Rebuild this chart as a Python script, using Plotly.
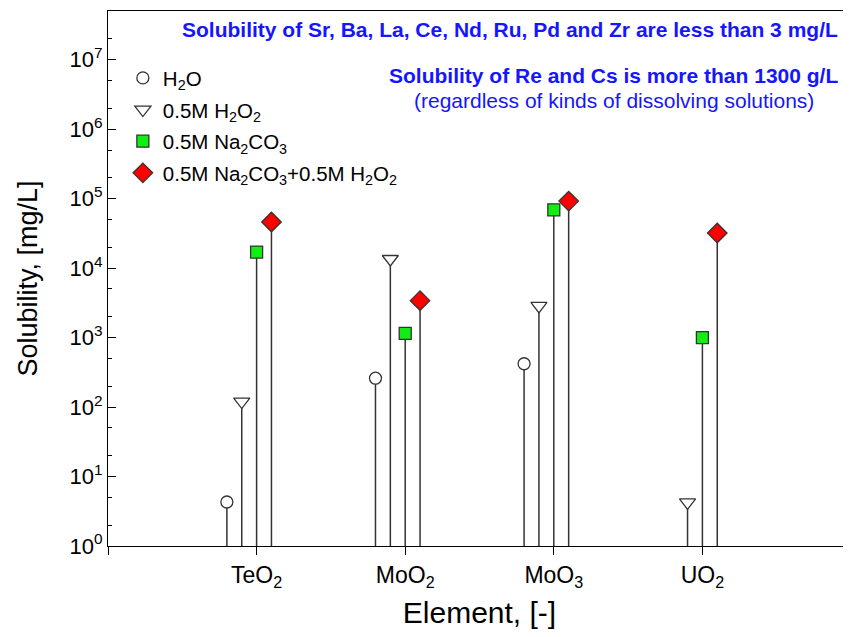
import plotly.graph_objects as go

categories = ["TeO<sub>2</sub>", "MoO<sub>2</sub>", "MoO<sub>3</sub>", "UO<sub>2</sub>"]
series_names = ["H<sub>2</sub>O", "0.5M H<sub>2</sub>O<sub>2</sub>", "0.5M Na<sub>2</sub>CO<sub>3</sub>",
                "0.5M Na<sub>2</sub>CO<sub>3</sub>+0.5M H<sub>2</sub>O<sub>2</sub>"]
h2o = [4.3, 260, 420, None]
h2o2 = [120, 13500, 2850, 4.25]
na2co3 = [17000, 1150, 69000, 1000]
na2co3_h2o2 = [46000, 3400, 92000, 32000]
series_values = [h2o, h2o2, na2co3, na2co3_h2o2]

offsets = [-0.2, -0.1, 0.0, 0.1]
symbols = ["circle", "triangle-down", "square", "diamond"]
fills = ["white", "white", "#11ee11", "#ff0000"]
sizes = [12, 14, 12, 15]

fig = go.Figure()

# stems
for vals, off in zip(series_values, offsets):
    sx, sy = [], []
    for i, v in enumerate(vals):
        if v is None:
            continue
        xx = i + 1 + off
        sx += [xx, xx, None]
        sy += [1, v, None]
    fig.add_trace(go.Scatter(x=sx, y=sy, mode="lines", line=dict(color="#333333", width=1.5),
                             showlegend=False, hoverinfo="skip"))

for k, (vals, off) in enumerate(zip(series_values, offsets)):
    xs = [i + 1 + off for i, v in enumerate(vals) if v is not None]
    ys = [v for v in vals if v is not None]
    fig.add_trace(go.Scatter(
        x=xs, y=ys, mode="markers", name=series_names[k], legendgroup=str(k),
        marker=dict(symbol=symbols[k], size=sizes[k], color=fills[k],
                    line=dict(color="#333333", width=1.3)),
    ))

fig.update_layout(
    width=843, height=621,
    margin=dict(l=100, r=0, t=3, b=83),
    plot_bgcolor="white", paper_bgcolor="white",
    font=dict(family="Liberation Sans, Arial, sans-serif", color="black", size=20),
    legend=dict(x=0.02, y=0.912, xanchor="left", yanchor="top", bgcolor="rgba(0,0,0,0)",
                font=dict(size=20.5), tracegroupgap=2, traceorder="grouped"),
    xaxis=dict(range=[0, 5], tickvals=[0, 1, 2, 3, 4, 5], ticktext=[""] + categories + [""],
               ticks="outside", ticklen=8, tickcolor="black", showline=True, linecolor="black",
               linewidth=1.2, mirror=True, showgrid=False, zeroline=False,
               title=dict(text="Element, [-]", font=dict(size=30), standoff=18),
               tickfont=dict(size=23)),
    yaxis=dict(type="log", range=[0, 7.7], tickvals=[10**i for i in range(8)],
               ticktext=["10<sup>%d</sup>" % i for i in range(8)],
               ticks="inside", ticklen=8, tickcolor="black", showline=True, linecolor="black",
               linewidth=1.2, mirror="ticks", showgrid=False, zeroline=False,
               minor=dict(ticks="inside", ticklen=4, tickcolor="black", showgrid=False),
               title=dict(text="Solubility, [mg/L]", font=dict(size=27), standoff=24),
               tickfont=dict(size=22)),
)

fig.add_annotation(xref="paper", yref="paper", x=0.985, y=0.966, xanchor="right", yanchor="middle",
                   text="<b>Solubility of Sr, Ba, La, Ce, Nd, Ru, Pd and Zr are less than 3 mg/L</b>",
                   showarrow=False, font=dict(size=21, color="#1515ff"))
fig.add_annotation(xref="paper", yref="paper", x=0.681, y=0.880, xanchor="center", yanchor="middle",
                   text="<b>Solubility of Re and Cs is more than 1300 g/L</b>",
                   showarrow=False, font=dict(size=21, color="#1515ff"))
fig.add_annotation(xref="paper", yref="paper", x=0.681, y=0.832, xanchor="center", yanchor="middle",
                   text="(regardless of kinds of dissolving solutions)",
                   showarrow=False, font=dict(size=21, color="#1515ff"))

fig.write_html("out.html")
